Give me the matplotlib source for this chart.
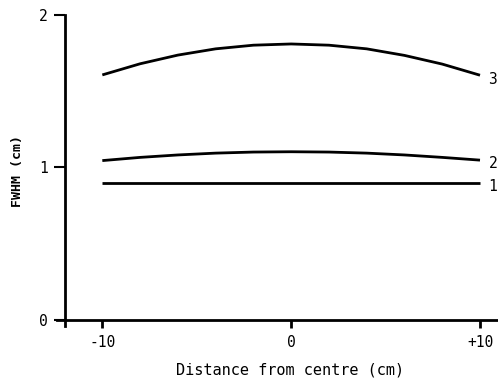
import matplotlib
matplotlib.use("Agg")
import matplotlib.pyplot as plt

x = [-10, -8, -6, -4, -2, 0, 2, 4, 6, 8, 10]
curve1 = [0.90, 0.90, 0.90, 0.90, 0.90, 0.90, 0.90, 0.90, 0.90, 0.90, 0.90]
curve2 = [1.045, 1.066, 1.082, 1.094, 1.101, 1.103, 1.101, 1.094, 1.082, 1.066, 1.048]
curve3 = [1.607, 1.680, 1.737, 1.778, 1.802, 1.81, 1.802, 1.778, 1.735, 1.678, 1.605]
curve_labels = ["1", "2", "3"]
xticks = [-10, 0, 10]
xticklabels = ["-10", "0", "+10"]
yticks = [0, 1, 2]

plt.rcParams['font.family'] = ['DejaVu Sans Mono']
fig = plt.figure(figsize=(4.98, 3.83), dpi=100)
ax = fig.add_axes([57/498, 1 - 326/383, (497 - 57)/498, (326 - 15)/383])

for yv, lab in zip([curve1, curve2, curve3], curve_labels):
    ax.plot(x, yv, color='black', lw=2.0, solid_capstyle='butt')
    ax.text(10.45, yv[-1] - 0.025, lab, fontsize=10.5, va='center', ha='left')

ax.set_xlim(-12.4, 10.9)
ax.set_ylim(-0.04, 2.0)
ax.spines['top'].set_visible(False)
ax.spines['right'].set_visible(False)
ax.spines['left'].set_position(('data', -12))
ax.spines['bottom'].set_position(('data', 0))
ax.spines['left'].set_linewidth(2.0)
ax.spines['bottom'].set_linewidth(2.0)

ax.set_xticks(xticks)
ax.set_xticklabels(xticklabels)
ax.set_yticks(yticks)
ax.tick_params(axis='x', direction='out', length=6, width=2, labelsize=10.5, pad=5)
ax.tick_params(axis='y', direction='out', length=8, width=1.5, labelsize=10.5, pad=4)

ax.set_xlabel("Distance from centre (cm)", fontsize=11, labelpad=10)
ax.xaxis.set_label_coords((290 - 57) / 440, -0.118)
ax.set_ylabel("FWHM (cm)", fontsize=9.5, fontweight='bold', labelpad=11)

fig.savefig("out.png", dpi=100)
